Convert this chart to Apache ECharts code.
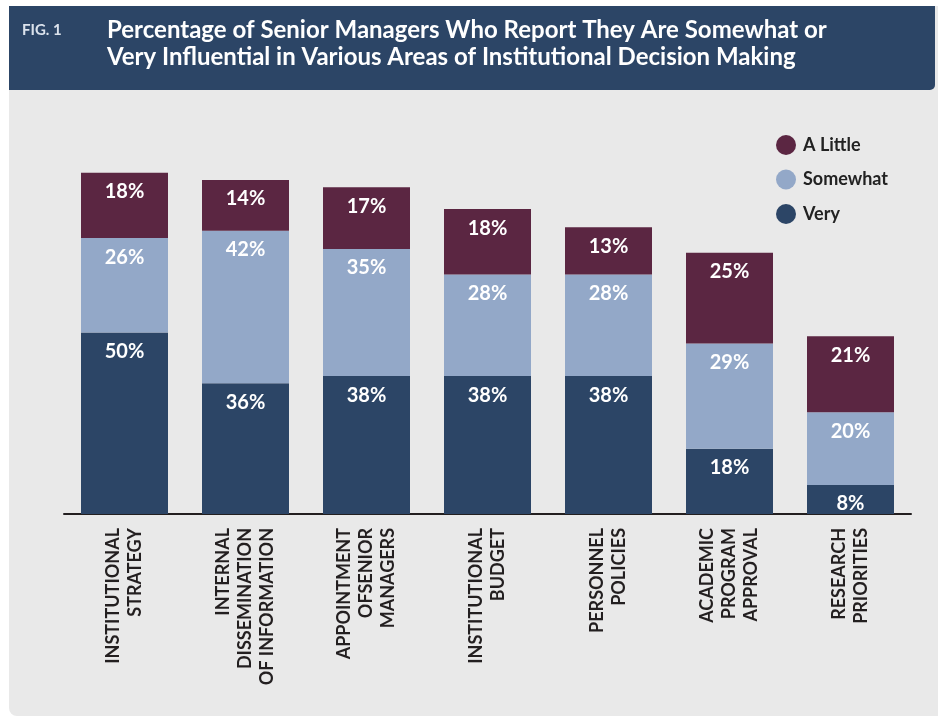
<!DOCTYPE html>
<html>
<head>
<meta charset="utf-8">
<script src="https://cdn.jsdelivr.net/npm/echarts@6/dist/echarts.min.js"></script>
<style>
	html, body { margin: 0; padding: 0; background: #fff; }
	#container { width: 938px; height: 716px; }
</style>
</head>
<body>
<div id="container"></div>
<script type="text/javascript">
	// 数据
	var categories = [
		'INSTITUTIONAL\nSTRATEGY',
		'INTERNAL\nDISSEMINATION\nOF INFORMATION',
		'APPOINTMENT\nOFSENIOR\nMANAGERS',
		'INSTITUTIONAL\nBUDGET',
		'PERSONNEL\nPOLICIES',
		'ACADEMIC\nPROGRAM\nAPPROVAL',
		'RESEARCH\nPRIORITIES'
	];
	var veryValues = [50, 36, 38, 38, 38, 18, 8];
	var somewhatValues = [26, 42, 35, 28, 28, 29, 20];
	var littleValues = [18, 14, 17, 18, 13, 25, 21];
	var legendNames = ['A Little', 'Somewhat', 'Very'];

	var font = 'Lato, "Open Sans", sans-serif';
	var dom = document.getElementById('container');
	var myChart = echarts.init(dom);

	function makeSeries(name, data, color) {
		return {
			name: name,
			type: 'bar',
			stack: 'total',
			barWidth: 87,
			data: data,
			itemStyle: { color: color },
			label: {
				show: true,
				position: 'insideTop',
				distance: 9,
				formatter: '{c}%',
				color: '#fff',
				fontFamily: font,
				fontWeight: 'bold',
				fontSize: 20
			}
		};
	}

	var option = {
		backgroundColor: '#fff',
		animation: false,
		graphic: [{
			type: 'rect',
			z: -10,
			shape: { x: 9, y: 6, width: 940, height: 710, r: [0, 0, 0, 8] },
			style: { fill: '#e9e9e9' }
		}, {
			type: 'rect',
			z: -9,
			shape: { x: 9, y: 6, width: 926, height: 84, r: [0, 0, 5, 0] },
			style: { fill: '#2c4566' }
		}, {
			type: 'text',
			left: 22,
			top: 23,
			style: {
				text: 'FIG. 1',
				fill: '#dbe2ec',
				font: 'bold 15px ' + font
			}
		}],
		title: {
			text: 'Percentage of Senior Managers Who Report They Are Somewhat or\nVery Influential in Various Areas of Institutional Decision Making',
			left: 107,
			top: 17,
			padding: 0,
			textStyle: {
				color: '#fff',
				fontFamily: font,
				fontWeight: 'bold',
				fontSize: 24,
				lineHeight: 27
			}
		},
		legend: {
			data: legendNames,
			orient: 'vertical',
			left: 776,
			top: 135,
			padding: 0,
			icon: 'circle',
			itemWidth: 20,
			itemHeight: 20,
			itemGap: 14.5,
			textStyle: {
				color: '#222',
				fontFamily: font,
				fontWeight: 'bold',
				fontSize: 18,
				lineHeight: 20,
				padding: [0, 0, 0, 2]
			}
		},
		grid: {
			left: 64,
			right: 27,
			top: 151,
			bottom: 202,
			containLabel: false
		},
		xAxis: {
			type: 'category',
			data: categories,
			axisLine: { lineStyle: { color: '#231f20', width: 2 } },
			axisTick: { show: false },
			axisLabel: {
				rotate: 90,
				margin: 14,
				interval: 0,
				color: '#231f20',
				fontFamily: font,
				fontWeight: 'bold',
				fontSize: 18,
				lineHeight: 22
			}
		},
		yAxis: {
			type: 'value',
			min: 0,
			max: 100,
			show: false
		},
		series: [
			makeSeries('Very', veryValues, '#2c4566'),
			makeSeries('Somewhat', somewhatValues, '#93a8c8'),
			makeSeries('A Little', littleValues, '#5b2642')
		]
	};

	myChart.setOption(option, true);
</script>
</body>
</html>
